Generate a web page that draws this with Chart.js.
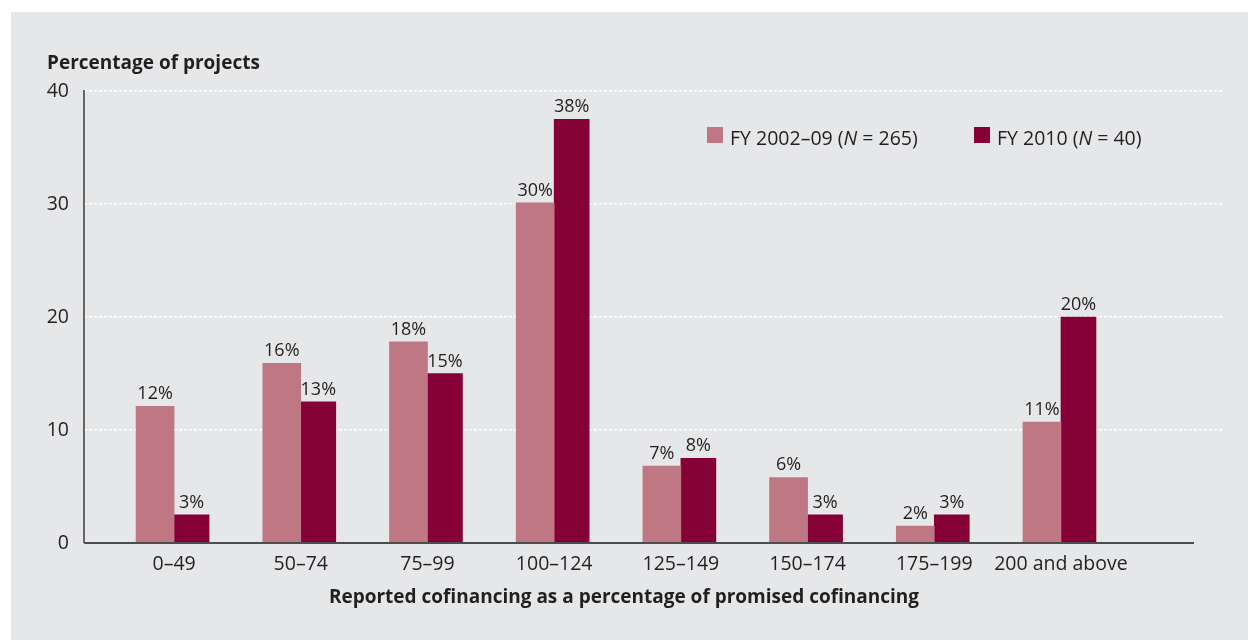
<!DOCTYPE html>
<html><head><meta charset="utf-8">
<script src="https://cdn.jsdelivr.net/npm/chart.js@4/dist/chart.umd.min.js"></script>
<style>html,body{margin:0;padding:0;background:#fff;overflow:hidden;} canvas{display:block;}</style>
</head><body>
<canvas id="c" width="1248" height="640"></canvas>
<script>
const categories = ['0–49','50–74','75–99','100–124','125–149','150–174','175–199','200 and above'];
const series2002 = [12.1, 15.9, 17.8, 30.1, 6.8, 5.8, 1.5, 10.7];
const series2010 = [2.5, 12.5, 15, 37.5, 7.5, 2.5, 2.5, 20];
const labels2002 = ['12%','16%','18%','30%','7%','6%','2%','11%'];
const labels2010 = ['3%','13%','15%','38%','8%','3%','3%','20%'];
const yTicks = [0, 10, 20, 30, 40];
const legendParts = [['FY 2002–09 (', 'N', ' = 265)'], ['FY 2010 (', 'N', ' = 40)']];
const yTitle = 'Percentage of projects';
const xTitle = 'Reported cofinancing as a percentage of promised cofinancing';

const FONT = "'Open Sans', 'DejaVu Sans', sans-serif";
const TEXT = '#231f20';
const PINK = '#bf7783';
const DARK = '#850035';
const BG = '#e6e7e8';

const bgPlugin = {
  id: 'bg',
  beforeDraw(chart) {
    const ctx = chart.ctx;
    ctx.save();
    ctx.fillStyle = '#ffffff';
    ctx.fillRect(0, 0, chart.width, chart.height);
    ctx.fillStyle = BG;
    ctx.fillRect(11, 12, chart.width - 11, chart.height - 12);
    ctx.restore();
  }
};

const decoPlugin = {
  id: 'deco',
  afterDatasetsDraw(chart) {
    const ctx = chart.ctx;
    const a = chart.chartArea;
    ctx.save();
    ctx.strokeStyle = '#3c3c3e';
    ctx.lineWidth = 1.5;
    ctx.beginPath();
    ctx.moveTo(a.left, a.top - 1);
    ctx.lineTo(a.left, a.bottom);
    ctx.stroke();
    ctx.strokeStyle = '#4d4d4f';
    ctx.lineWidth = 2;
    ctx.beginPath();
    ctx.moveTo(a.left, a.bottom);
    ctx.lineTo(a.right - 28, a.bottom);
    ctx.stroke();
    ctx.font = '18px ' + FONT;
    ctx.fillStyle = TEXT;
    ctx.textAlign = 'center';
    ctx.textBaseline = 'alphabetic';
    const allLabels = [labels2002, labels2010];
    chart.data.datasets.forEach((ds, di) => {
      const meta = chart.getDatasetMeta(di);
      meta.data.forEach((el, i) => {
        ctx.fillText(allLabels[di][i], el.x, el.y - 7);
      });
    });
    const legendX = [707, 974];
    const cols = [PINK, DARK];
    legendParts.forEach((parts, k) => {
      ctx.fillStyle = cols[k];
      ctx.fillRect(legendX[k], 127, 16, 16);
      ctx.fillStyle = TEXT;
      ctx.textAlign = 'left';
      let x = legendX[k] + 23;
      parts.forEach((p, j) => {
        ctx.font = (j === 1 ? 'italic ' : '') + '19.5px ' + FONT;
        ctx.fillText(p, x, 145);
        x += ctx.measureText(p).width;
      });
    });
    ctx.font = 'bold 19px ' + FONT;
    ctx.textAlign = 'center';
    ctx.fillStyle = TEXT;
    ctx.fillText(xTitle, 624, 603);
    ctx.restore();
  }
};

new Chart(document.getElementById('c'), {
  type: 'bar',
  data: {
    labels: categories.map((_, i) => i),
    datasets: [
      { label: 'FY 2002–09 (N = 265)', data: series2002, backgroundColor: PINK, barThickness: 38 },
      { label: 'FY 2010 (N = 40)', data: series2010, backgroundColor: DARK, barThickness: 35 }
    ]
  },
  options: {
    responsive: false,
    animation: false,
    devicePixelRatio: 1,
    layout: { padding: { top: 30, left: 47, right: 26, bottom: 0 } },
    plugins: {
      legend: { display: false },
      tooltip: { enabled: false },
      title: {
        display: true, text: yTitle, align: 'start', color: TEXT,
        font: { family: FONT, size: 19, weight: 'bold' },
        padding: { top: 22.6, bottom: 15.6 }
      }
    },
    scales: {
      x: {
        type: 'linear', min: -0.711, max: 8.271, offset: false,
        grid: { display: false, offset: false, drawTicks: false },
        border: { display: false },
        afterBuildTicks: s => { s.ticks = categories.map((_, i) => ({ value: i })); },
        afterFit: s => { s.height = 97; },
        ticks: {
          autoSkip: false, maxRotation: 0, padding: 10, color: TEXT,
          font: { family: FONT, size: 19.5 },
          callback: v => categories[v] ?? ''
        }
      },
      y: {
        min: 0, max: 40,
        afterBuildTicks: s => { s.ticks = yTicks.map(v => ({ value: v })); },
        afterFit: s => { s.width = 37; },
        grid: {
          drawTicks: false, lineWidth: 1.5,
          color: c => (c.tick && c.tick.value === 0) ? 'rgba(0,0,0,0)' : '#ffffff'
        },
        border: { display: false, dash: [3, 2] },
        ticks: { padding: 15, color: TEXT, font: { family: FONT, size: 19.5 } }
      }
    }
  },
  plugins: [bgPlugin, decoPlugin]
});
</script>
</body></html>
